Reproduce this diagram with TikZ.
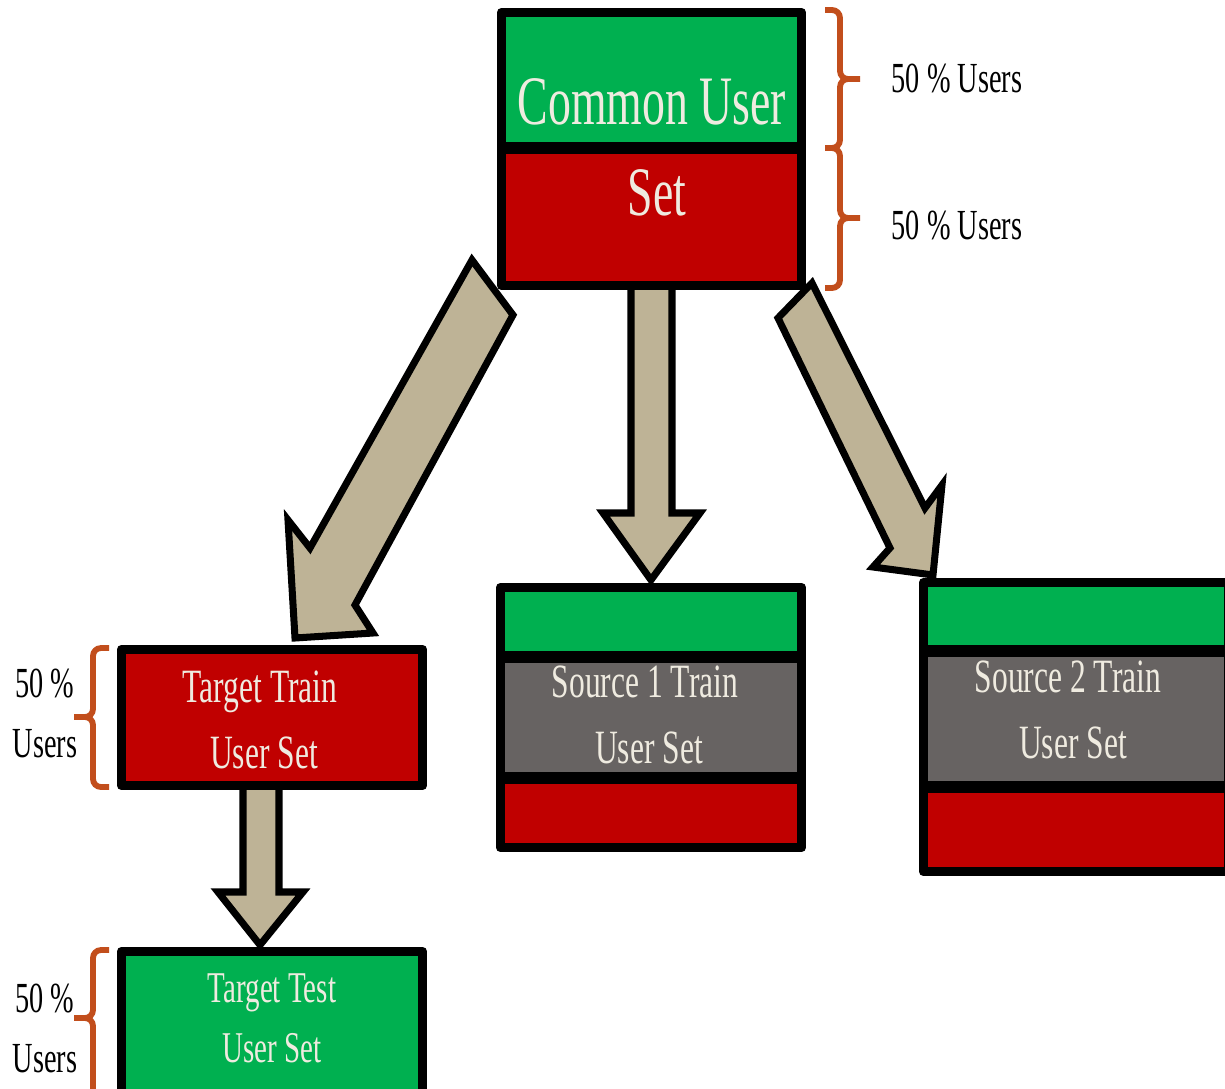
\documentclass[tikz,border=0pt]{standalone}
\usepackage{fontspec}
\setmainfont{Liberation Serif}[FakeStretch=0.66]
\definecolor{cgreen}{HTML}{00B050}
\definecolor{cred}{HTML}{C00000}
\definecolor{cgray}{HTML}{676362}
\definecolor{ctan}{HTML}{BEB396}
\definecolor{cbrace}{HTML}{C24E1C}
\definecolor{ccream}{HTML}{EFEBE0}
\tikzset{
  boxline/.style={draw=black,line width=5.5pt,line join=round},
  divline/.style={draw=black,line width=6.6pt},
  blockarrow/.style={fill=ctan,draw=black,line width=4pt,line join=miter},
  bracestyle/.style={draw=cbrace,line width=3.3pt,line cap=butt},
  wtxt/.style={text=ccream,inner sep=0pt,anchor=base},
  btxt/.style={text=black,inner sep=0pt,anchor=base},
}
\newcommand\myrbrace[3]{%
  \draw[bracestyle] (825,#1) -- (832,#1) to[out=0,in=90] (840,{#1+8}) -- (840,{#2-8}) to[out=-90,in=180] (848,#2) -- (860,#2);
  \draw[bracestyle] (848,#2) to[out=180,in=90] (840,{#2+8}) -- (840,{#3-8}) to[out=-90,in=0] (832,#3) -- (825,#3);}
\newcommand\mylbrace[3]{%
  \draw[bracestyle] (109,#1) -- (101,#1) to[out=180,in=90] (93,{#1+8}) -- (93,{#2-8}) to[out=-90,in=0] (85,#2) -- (74,#2);
  \draw[bracestyle] (85,#2) to[out=0,in=90] (93,{#2+8}) -- (93,{#3-8}) to[out=-90,in=180] (101,#3) -- (109,#3);}
\begin{document}
\begin{tikzpicture}[x=0.02cm,y=-0.02cm]
\useasboundingbox (0,0) rectangle (1225,1089);
\clip (0,0) rectangle (1225,1089);
\fill[white] (0,0) rectangle (1225,1089);

% named anchor points
\coordinate (common) at (651,148);
\coordinate (src1) at (651,717);
\coordinate (src2) at (1075,727);
\coordinate (ttrain) at (272,717);
\coordinate (ttest) at (272,1020);

% block arrows
\draw[blockarrow] (472,260) -- (513,315) -- (355,605) -- (373,633) -- (295,638) -- (288,520) -- (310,548) -- cycle;
\draw[blockarrow] (812,283) -- (778,318) -- (890,548) -- (873,567) -- (933,575) -- (942,485) -- (925,508) -- cycle;
\draw[blockarrow] (631,280) -- (631,513) -- (603,513) -- (651,580) -- (700,513) -- (672,513) -- (672,280) -- cycle;
\draw[blockarrow] (243,785) -- (243,892) -- (218,892) -- (260,945) -- (303,892) -- (279,892) -- (279,785) -- cycle;

% top box: Common User Set
\fill[cgreen] (501.5,12.5) rectangle (801.5,148);
\fill[cred] (501.5,148) rectangle (801.5,285.5);
\draw[divline] (501.5,148) -- (801.5,148);
\draw[boxline] (501.5,12.5) rectangle (801.5,285.5);

% Source 1
\fill[cgreen] (500.5,587.5) rectangle (801.5,657);
\fill[cgray] (500.5,657) rectangle (801.5,778);
\fill[cred] (500.5,778) rectangle (801.5,847.5);
\draw[divline] (500.5,657) -- (801.5,657);
\draw[divline] (500.5,778) -- (801.5,778);
\draw[boxline] (500.5,587.5) rectangle (801.5,847.5);

% Source 2
\fill[cgreen] (923.5,582.5) rectangle (1229,651);
\fill[cgray] (923.5,651) rectangle (1229,787);
\fill[cred] (923.5,787) rectangle (1229,871.5);
\draw[divline] (923.5,651) -- (1229,651);
\draw[divline] (923.5,787) -- (1229,787);
\draw[boxline] (923.5,582.5) rectangle (1229,871.5);

% Target Train
\fill[cred] (121.5,649.5) rectangle (422.5,785.5);
\draw[boxline] (121.5,649.5) rectangle (422.5,785.5);

% Target Test
\fill[cgreen] (121.5,951.5) rectangle (422.5,1100);
\draw[boxline] (121.5,951.5) rectangle (422.5,1100);

% braces
\myrbrace{10}{79}{148}
\myrbrace{148}{218}{288}
\mylbrace{648}{717}{787}
\mylbrace{950}{1018}{1120}

% texts
\node[wtxt,font=\fontsize{39.5pt}{41pt}\selectfont] (t1) at (652,124) {Common User};
\node[wtxt,font=\fontsize{39.5pt}{41pt}\selectfont] (t2) at (657,215) {Set};
\node[btxt,font=\fontsize{24.4pt}{26pt}\selectfont] (l1) at (957,92) {50 \% Users};
\node[btxt,font=\fontsize{24.4pt}{26pt}\selectfont] (l2) at (957,239) {50 \% Users};

\node[wtxt,font=\fontsize{27.2pt}{29pt}\selectfont] (s1a) at (645,697) {Source 1 Train};
\node[wtxt,font=\fontsize{27.2pt}{29pt}\selectfont] (s1b) at (649,763) {User Set};
\node[wtxt,font=\fontsize{27.2pt}{29pt}\selectfont] (s2a) at (1068,692) {Source 2 Train};
\node[wtxt,font=\fontsize{27.2pt}{29pt}\selectfont] (s2b) at (1073,758) {User Set};

\node[wtxt,font=\fontsize{27.2pt}{29pt}\selectfont] (tta) at (260,702) {Target Train};
\node[wtxt,font=\fontsize{27.2pt}{29pt}\selectfont] (ttb) at (264,768) {User Set};
\node[wtxt,font=\fontsize{25pt}{27pt}\selectfont] (tsa) at (272,1002) {Target Test};
\node[wtxt,font=\fontsize{25pt}{27pt}\selectfont] (tsb) at (272,1062) {User Set};

\node[btxt,font=\fontsize{24.4pt}{26pt}\selectfont] (l3) at (45,697) {50 \%};
\node[btxt,font=\fontsize{24.4pt}{26pt}\selectfont] (l4) at (45,757) {Users};
\node[btxt,font=\fontsize{24.4pt}{26pt}\selectfont] (l5) at (45,1012) {50 \%};
\node[btxt,font=\fontsize{24.4pt}{26pt}\selectfont] (l6) at (45,1072) {Users};
\end{tikzpicture}
\end{document}
